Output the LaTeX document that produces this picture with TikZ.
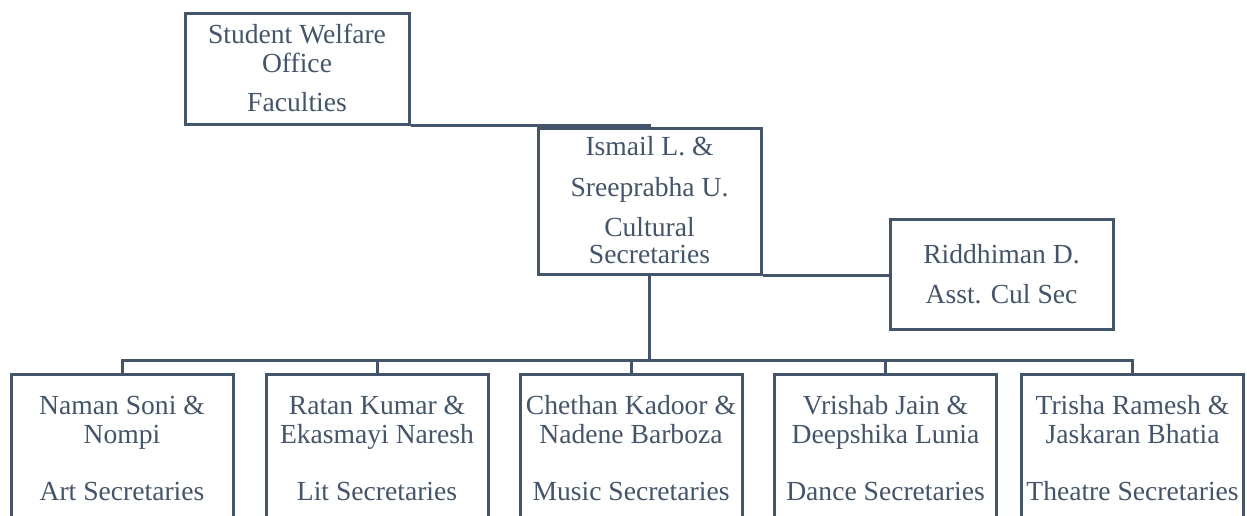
\documentclass[tikz,border=0pt]{standalone}
\usepackage{fontspec}
\setmainfont{Liberation Serif}
\definecolor{cdark}{HTML}{44546A}
\begin{document}
\begin{tikzpicture}[x=0.5pt,y=-0.5pt,
  box/.style={draw=cdark, line width=1.5pt, rectangle, inner sep=0pt, fill=none},
  ln/.style={anchor=base, inner sep=0pt, text=cdark, font=\fontsize{13.8pt}{16pt}\selectfont},
  conn/.style={draw=cdark, line width=1.5pt},
  bot/.style={box, minimum width=111pt, minimum height=83pt}]
\clip (0,0) rectangle (1247,515);
\fill[white] (0,0) rectangle (1247,515);
% boxes
\node[box, minimum width=112pt, minimum height=55.5pt] (swo) at (297,68.5) {};
\node[box, minimum width=111.5pt, minimum height=73pt] (ism) at (649.5,201) {};
\node[box, minimum width=111.5pt, minimum height=55pt] (rid) at (1001.5,274) {};
\node[bot] (b1) at (122,457) {};
\node[bot] (b2) at (377,457) {};
\node[bot] (b3) at (631,457) {};
\node[bot] (b4) at (885.5,457) {};
\node[bot] (b5) at (1132.5,457) {};
% texts
\node[ln] (swoa) at (297,43) {Student Welfare};
\node[ln] (swob) at (297,72) {Office};
\node[ln] (swoc) at (297,111) {Faculties};
\node[ln] (isma) at (649.5,155) {Ismail L. \&};
\node[ln] (ismb) at (649.5,196) {Sreeprabha U.};
\node[ln] (ismc) at (649.5,236) {Cultural};
\node[ln] (ismd) at (649.5,263) {Secretaries};
\node[ln] (rida) at (1001.5,263) {Riddhiman D.};
\node[ln] (ridb) at (1001.5,303) {Asst. Cul Sec};
\node[ln] (b1a) at (122,414) {Naman Soni \&};
\node[ln] (b1b) at (122,443) {Nompi};
\node[ln] (b1c) at (122,500) {Art Secretaries};
\node[ln] (b2a) at (377,414) {Ratan Kumar \&};
\node[ln] (b2b) at (377,443) {Ekasmayi Naresh};
\node[ln] (b2c) at (377,500) {Lit Secretaries};
\node[ln] (b3a) at (631,414) {Chethan Kadoor \&};
\node[ln] (b3b) at (631,443) {Nadene Barboza};
\node[ln] (b3c) at (631,500) {Music Secretaries};
\node[ln] (b4a) at (885.5,414) {Vrishab Jain \&};
\node[ln] (b4b) at (885.5,443) {Deepshika Lunia};
\node[ln] (b4c) at (885.5,500) {Dance Secretaries};
\node[ln] (b5a) at (1132.5,414) {Trisha Ramesh \&};
\node[ln] (b5b) at (1132.5,443) {Jaskaran Bhatia};
\node[ln] (b5c) at (1132.5,500) {Theatre Secretaries};
% connectors
\draw[conn] (swo.south east) -| (ism.north);
\draw[conn] (ism.south east) -- (ism.south east -| rid.west);
\coordinate (hub) at (649.5,360);
\draw[conn] (ism.south) -- (hub);
\foreach \b in {b1,b2,b3,b4,b5}{\draw[conn] (hub) -| (\b.north);}
\end{tikzpicture}
\end{document}
